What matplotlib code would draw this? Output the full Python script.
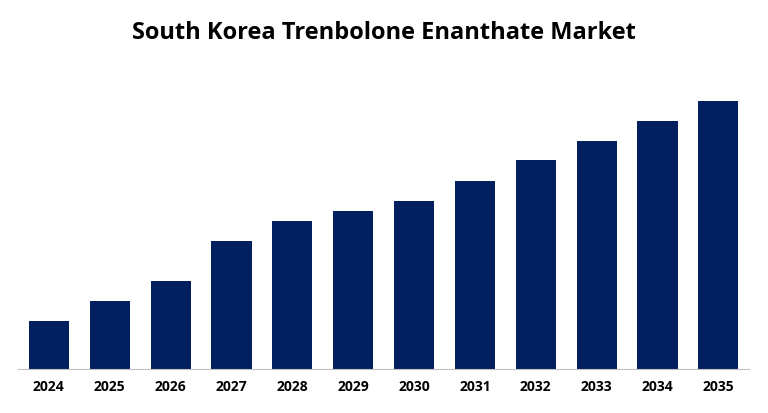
import matplotlib
matplotlib.use("Agg")
import matplotlib.pyplot as plt

years = ["2024","2025","2026","2027","2028","2029","2030","2031","2032","2033","2034","2035"]
values = [48, 68, 88, 128, 148, 158, 168, 188, 209, 228, 248, 268]

fig = plt.figure(figsize=(7.68, 4.13), dpi=100)
ax = fig.add_axes([0.024, 0.1065, 0.951, 0.70])
ax.bar(range(len(years)), values, width=0.66, color="#02205f")
ax.set_xlim(-0.5, len(years) - 0.5)
ax.set_ylim(0, 289)
ax.set_xticks(range(len(years)))
ax.set_xticklabels(years, fontsize=10, fontweight="bold", fontfamily="Open Sans")
ax.tick_params(axis="x", length=0, pad=8)
ax.set_yticks([])
for s in ["top", "right", "left"]:
    ax.spines[s].set_visible(False)
ax.spines["bottom"].set_color("#bfbfbf")
fig.text(0.5, 0.92, "South Korea Trenbolone Enanthate Market", ha="center", va="center",
         fontsize=17, fontweight="bold", fontfamily="Open Sans")
fig.savefig("out.png", dpi=100)
